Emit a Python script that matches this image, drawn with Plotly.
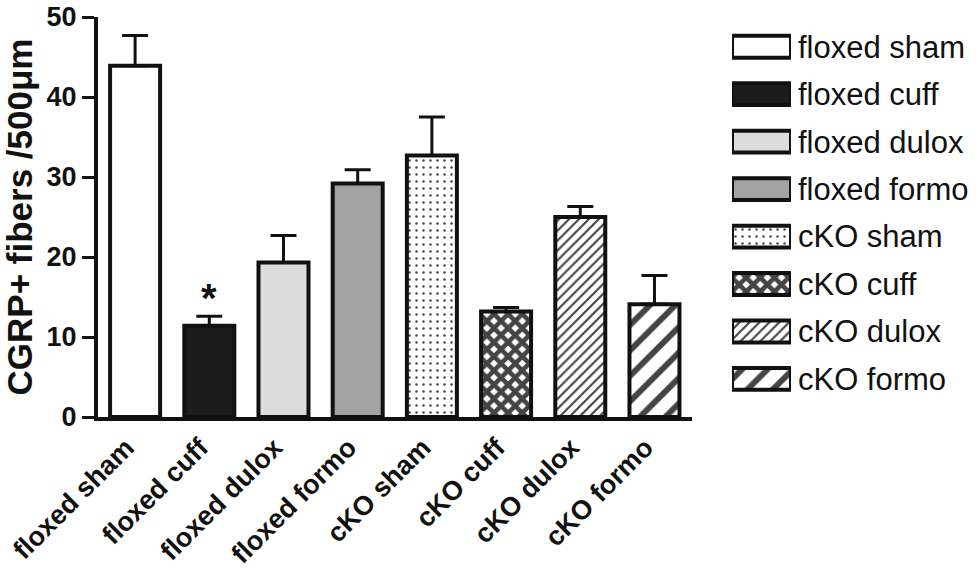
import plotly.graph_objects as go

categories = ["floxed sham", "floxed cuff", "floxed dulox", "floxed formo",
              "cKO sham", "cKO cuff", "cKO dulox", "cKO formo"]
means = [43.9, 11.4, 19.3, 29.2, 32.7, 13.2, 25.0, 14.1]
sems = [3.8, 1.2, 3.4, 1.7, 4.8, 0.5, 1.3, 3.6]
y_ticks = [0, 10, 20, 30, 40, 50]

fill_colors = ["white", "#1c1c1c", "#dcdcdc", "#a3a3a3", "white", "white", "white", "white"]
pattern_shapes = ["", "", "", "", ".", "x", "/", "/"]
pattern_sizes = [8, 8, 8, 8, 7, 10, 7, 18]
pattern_solid = [0.2, 0.2, 0.2, 0.2, 0.1, 0.7, 0.3, 0.33]

FONT = "Arial, Liberation Sans, Helvetica, sans-serif"


def marker_style():
    return dict(color=fill_colors,
                line=dict(color="#111", width=4),
                pattern=dict(shape=pattern_shapes, size=pattern_sizes,
                             solidity=pattern_solid, fgcolor="#111", fgopacity=1))


fig = go.Figure()

fig.add_trace(go.Bar(
    x=categories, y=means, width=0.674,
    marker=marker_style(),
    error_y=dict(type="data", symmetric=False, array=sems,
                 arrayminus=[0] * len(sems), color="#111", thickness=3, width=13),
    showlegend=False, xaxis="x", yaxis="y",
))

# legend swatches drawn as bars on a small side axis
fig.add_trace(go.Bar(
    y=categories, x=[1] * len(categories), orientation="h", width=0.46,
    marker=marker_style(),
    showlegend=False, xaxis="x2", yaxis="y2", hoverinfo="skip",
))

fig.add_annotation(x="floxed cuff", y=means[1] + sems[1], xref="x", yref="y",
                   text="<b>*</b>", showarrow=False, yanchor="bottom", yshift=-6,
                   font=dict(size=40, color="#111", family=FONT))

fig.update_layout(
    width=980, height=568,
    margin=dict(l=98, r=10, t=17, b=151),
    paper_bgcolor="white", plot_bgcolor="white",
    font=dict(family=FONT, color="#111"),
    xaxis=dict(domain=[0, 0.6807], range=[-0.5, 7.5], showline=True, linewidth=4,
               linecolor="#111", ticks="", tickangle=-45, showgrid=False, zeroline=False,
               automargin=False, ticklabelshift=-9, ticklabeloverflow="allow",
               tickfont=dict(size=27, family=FONT, color="#111", weight="bold")),
    yaxis=dict(range=[0, 50], tickvals=y_ticks, showline=True, linewidth=4,
               linecolor="#111", ticks="outside", ticklen=12, tickwidth=3, tickcolor="#111",
               showgrid=False, zeroline=False, automargin=False,
               ticklabeloverflow="allow",
               tickfont=dict(size=27, family=FONT, color="#111", weight="bold"),
               title=dict(text="<b>CGRP+ fibers /500μm</b>", standoff=6,
                          font=dict(size=35, family=FONT, color="#111"))),
    xaxis2=dict(domain=[0.7271, 0.7947], range=[0, 1], anchor="y2", visible=False,
                fixedrange=True),
    yaxis2=dict(domain=[0.0358, 0.985], anchor="x2", side="right", range=[7.5, -0.5],
                showline=False, showgrid=False, zeroline=False, ticks="", automargin=False,
                ticklabelstandoff=6, ticklabeloverflow="allow",
                tickfont=dict(size=31, family=FONT, color="#111")),
)

fig.write_html("out.html", config={"displayModeBar": False},
               post_script="document.body.style.margin='0';document.body.style.overflow='hidden';")
